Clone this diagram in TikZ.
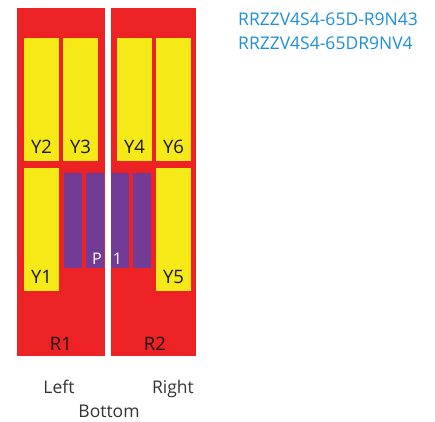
\documentclass[tikz,border=0pt]{standalone}
\usepackage{fontspec}
\setmainfont{Open Sans}
\definecolor{rougeR}{RGB}{237,34,36}
\definecolor{jauneY}{RGB}{245,233,24}
\definecolor{violetP}{RGB}{114,59,150}
\definecolor{bleuRef}{RGB}{30,144,214}
\begin{document}
\begin{tikzpicture}[x=1pt, y=-1pt,
    etiq/.style={anchor=base, inner sep=0pt, font=\fontsize{18.5}{18.5}\selectfont, text=black!90},
    legende/.style={anchor=base, inner sep=0pt, font=\fontsize{17.5}{17.5}\selectfont, text=black!80}]

    % Cadre de l'image (marges comprises)
    \useasboundingbox (0,0) rectangle (435,421);

    % Les deux panneaux rouges R1 et R2
    \fill[rougeR] (17,8) rectangle (105,356);
    \fill[rougeR] (111,8) rectangle (196,356);
    \node[etiq] (r1) at (61,350) {R1};
    \node[etiq] (r2) at (155,350) {R2};

    % Barres violettes (P1), posees a cheval sur les deux panneaux
    \foreach \xa/\xb in {64/82, 86/104, 111/129, 133/151} {
        \fill[violetP] (\xa,173) rectangle (\xb,268);
    }
    \node[anchor=base, inner sep=0pt, text=white, font=\fontsize{16}{16}\selectfont] (p) at (97,264) {P};
    \node[anchor=base, inner sep=0pt, text=white, font=\fontsize{16}{16}\selectfont] (un) at (117.5,264) {1};

    % Cases jaunes Y1..Y6 : nom / gauche / haut / bas
    \foreach \nom/\x/\ya/\yb in {Y2/24/38/161, Y3/63/38/161, Y4/117/38/161,
                                 Y6/156/38/161, Y1/24/168/291, Y5/156/168/291} {
        \fill[jauneY] (\x,\ya) rectangle (\x+35,\yb);
        % l'etiquette se place pres du bas de la case
        \node[etiq] (\nom) at (\x+17.5,\yb-8) {\nom};
    }

    % References en bleu en haut a droite
    \node[anchor=base west, inner sep=0pt, text=bleuRef, font=\fontsize{17.5}{17.5}\selectfont] (ref1) at (238,25) {RRZZV4S4-65D-R9N43};
    \node[anchor=base west, inner sep=0pt, text=bleuRef, font=\fontsize{17.5}{17.5}\selectfont] (ref2) at (238,49) {RRZZV4S4-65DR9NV4};

    % Legende sous les panneaux
    \node[legende] (gauche) at (59,393) {Left};
    \node[legende] (droite) at (173,393) {Right};
    \node[legende] (bas) at (109,417) {Bottom};

\end{tikzpicture}
\end{document}
